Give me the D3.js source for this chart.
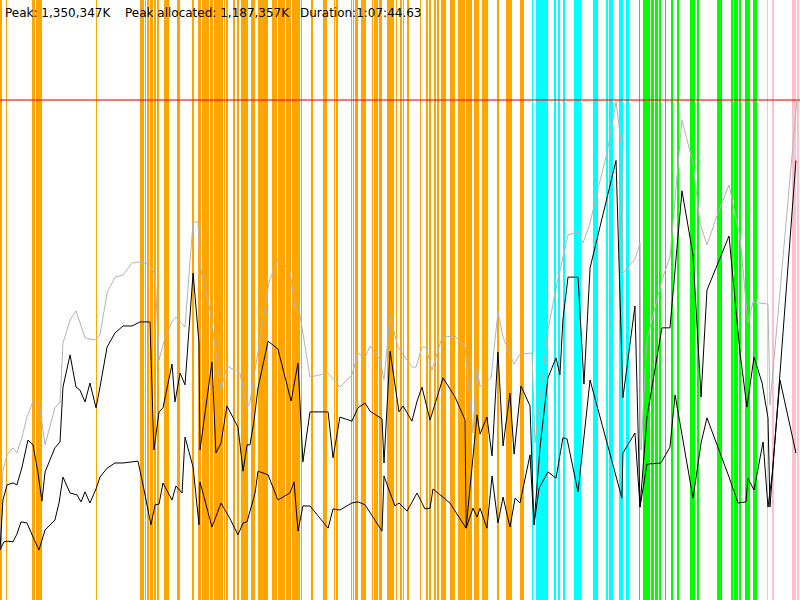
<!DOCTYPE html>
<html>
<head>
<meta charset="utf-8">
<script src="https://cdn.jsdelivr.net/npm/d3@7/dist/d3.min.js"></script>
<style>
	html, body { margin: 0; padding: 0; background: #fff; }
	svg { display: block; }
	.info { font-family: 'DejaVu Sans', sans-serif; font-size: 12px; fill: #000; }
</style>
</head>
<body>
<div id="chart"></div>
<script>
// times in seconds, memory in thousands of K
let duration      = 4064.63;
let peak          = 1350.347;
let peakAllocated = 1187.357;
let infoLabels    = ['Peak: 1,350,347K', 'Peak allocated: 1,187,357K', 'Duration:1:07:44.63'];

// event spans [start, end] per phase
let orangeEvents = [[0,10],[30,36],[163,178],[183,213],[488,493],[711,732],[737,742],[747,757],[762,777],[782,793],[798,808],[833,859],[899,915],[976,986],[1006,1021],[1026,1062],[1067,1082],[1087,1133],[1138,1143],[1148,1158],[1184,1194],[1204,1214],[1225,1260],[1275,1296],[1311,1362],[1382,1407],[1413,1448],[1453,1479],[1484,1524],[1529,1534],[1580,1590],[1641,1661],[1697,1702],[1707,1717],[1783,1788],[1794,1799],[1804,1819],[1834,1860],[1890,1895],[1900,1921],[1926,1941],[1966,2002],[2012,2017],[2032,2043],[2048,2053],[2068,2078],[2134,2139],[2164,2175],[2180,2190],[2205,2215],[2220,2231],[2241,2266],[2286,2312],[2327,2363],[2368,2398],[2408,2434],[2449,2479],[2525,2535],[2571,2601],[2642,2662]];
let cyanEvents   = [[2703,2708],[2723,2784],[2815,2825],[2835,2845],[2861,2871],[2916,2952],[3013,3038],[3079,3089],[3094,3115],[3145,3165],[3181,3196]];
let greenEvents  = [[3247,3252],[3267,3303],[3308,3323],[3328,3343],[3348,3358],[3379,3384],[3409,3419],[3440,3450],[3506,3531],[3541,3552],[3643,3668],[3714,3724],[3729,3750],[3755,3765],[3785,3811],[3826,3846]];
let pinkEvents   = [[3897,3902],[3922,3933],[4024,4044],[4049,4060]];

// [time, memory]
let total = [[0,149],[15,351],[36,392],[66,411],[86,397],[112,440],[137,494],[168,537],[198,535],[229,419],[279,519],[305,535],[320,694],[356,756],[386,781],[432,708],[483,702],[508,716],[544,829],[584,872],[625,878],[671,910],[711,913],[762,907],[788,878],[808,648],[838,708],[874,751],[894,764],[940,737],[981,1021],[1006,1021],[1016,905],[1067,783],[1123,567],[1153,632],[1219,613],[1255,519],[1270,535],[1367,859],[1412,921],[1473,889],[1499,791],[1519,786],[1575,602],[1667,613],[1727,575],[1788,608],[1819,667],[1854,654],[1880,686],[1931,648],[1951,594],[1982,767],[2022,683],[2093,629],[2114,629],[2144,683],[2164,683],[2195,621],[2246,710],[2312,713],[2363,683],[2403,451],[2424,629],[2439,575],[2495,600],[2530,778],[2556,710],[2612,637],[2642,664],[2703,667],[2718,424],[2784,729],[2830,856],[2855,913],[2886,986],[2937,994],[2962,964],[2998,1018],[3033,1099],[3084,1207],[3130,1345],[3160,1215],[3165,883],[3226,921],[3252,964],[3257,405],[3287,702],[3363,864],[3404,926],[3465,1296],[3521,1180],[3557,1018],[3592,959],[3648,1045],[3704,1121],[3760,980],[3800,748],[3826,805],[3902,799],[3912,527],[4049,1350]];
let allocated = [[0,135],[15,270],[36,311],[66,316],[86,311],[112,359],[142,432],[168,419],[193,343],[213,267],[229,346],[279,411],[305,427],[320,575],[356,662],[386,575],[406,567],[432,535],[457,586],[488,519],[508,575],[544,683],[584,721],[625,740],[671,740],[711,751],[762,751],[782,405],[808,508],[828,519],[874,637],[889,535],[915,613],[940,581],[981,883],[1011,694],[1016,405],[1077,643],[1097,397],[1123,424],[1153,524],[1209,467],[1235,348],[1255,419],[1270,419],[1291,486],[1311,573],[1362,699],[1412,678],[1479,537],[1514,640],[1539,373],[1575,508],[1667,508],[1692,384],[1727,494],[1788,483],[1819,519],[1855,532],[1880,510],[1941,489],[1951,370],[1982,672],[2027,508],[2048,524],[2093,483],[2119,537],[2144,575],[2185,486],[2251,600],[2312,548],[2363,486],[2368,194],[2424,500],[2439,448],[2474,494],[2500,389],[2530,670],[2556,416],[2591,559],[2612,394],[2647,578],[2693,524],[2713,203],[2744,413],[2784,600],[2825,654],[2845,608],[2860,756],[2886,872],[2937,872],[2967,583],[2998,897],[3130,1187],[3165,546],[3226,794],[3252,251],[3287,494],[3363,735],[3404,735],[3465,1105],[3521,932],[3562,548],[3592,837],[3704,983],[3760,667],[3795,521],[3831,656],[3872,586],[3902,492],[3912,251],[4044,1187]];
let live = [[0,135],[20,157],[41,159],[66,157],[86,178],[107,211],[137,208],[168,170],[198,135],[229,189],[279,216],[300,262],[320,332],[356,289],[391,284],[412,265],[432,292],[457,262],[488,300],[508,332],[544,356],[584,370],[625,370],[671,373],[701,375],[732,297],[767,203],[788,257],[808,259],[828,316],[874,270],[894,308],[925,289],[940,440],[981,359],[1011,203],[1016,319],[1077,197],[1123,262],[1169,219],[1209,176],[1235,208],[1255,211],[1296,289],[1311,348],[1362,338],[1412,270],[1473,289],[1494,319],[1514,186],[1539,254],[1575,254],[1667,194],[1692,246],[1727,243],[1788,262],[1819,265],[1855,257],[1895,224],[1941,186],[1951,335],[1982,289],[2007,254],[2027,262],[2068,240],[2119,289],[2159,246],[2185,248],[2200,300],[2286,262],[2368,194],[2403,248],[2424,224],[2439,248],[2474,194],[2500,335],[2530,208],[2556,278],[2591,197],[2617,275],[2642,262],[2693,392],[2713,203],[2739,302],[2784,346],[2825,329],[2860,438],[2881,435],[2937,292],[2998,594],[3160,275],[3165,397],[3226,451],[3252,251],[3287,367],[3358,370],[3404,413],[3430,554],[3521,275],[3562,424],[3592,492],[3704,332],[3750,262],[3790,265],[3800,329],[3831,297],[3877,427],[3902,251],[3922,332],[3963,594],[4044,397]];

let width  = 800,
	height = 600,
	top_y  = 100;

let x = d3.scaleLinear()
	.domain([0, duration])
	.range([0, width]);

let y = d3.scaleLinear()
	.domain([0, peak])
	.range([height, top_y]);

let svg = d3.select('#chart')
	.append('svg')
	.attr('width', width)
	.attr('height', height);

let phases = [
	{events: orangeEvents, color: '#ffa500'},
	{events: cyanEvents,   color: '#00ffff'},
	{events: greenEvents,  color: '#00ff00'},
	{events: pinkEvents,   color: '#ffc0cb'}
];

phases.forEach(function(p){
	svg.append('g')
		.attr('shape-rendering', 'crispEdges')
		.selectAll('rect')
		.data(p.events)
		.enter()
		.append('rect')
		.attr('x', function(d){ return x(d[0]); })
		.attr('y', 0)
		.attr('width', function(d){ return Math.max(1, x(d[1]) - x(d[0])); })
		.attr('height', height)
		.attr('fill', p.color);
});

// peak marker
svg.append('line')
	.attr('x1', 0)
	.attr('x2', width)
	.attr('y1', y(peak))
	.attr('y2', y(peak))
	.attr('stroke', '#ff0000')
	.attr('stroke-opacity', 0.55)
	.attr('stroke-width', 2);

let line = d3.line()
	.x(function(d){ return x(d[0]); })
	.y(function(d){ return y(d[1]); });

svg.append('path')
	.datum(total)
	.attr('fill', 'none')
	.attr('stroke', '#b4b4b4')
	.attr('stroke-width', 1)
	.attr('d', line);

[allocated, live].forEach(function(series){
	svg.append('path')
		.datum(series)
		.attr('fill', 'none')
		.attr('stroke', '#000')
		.attr('stroke-width', 1)
		.attr('d', line);
});

let label_x = [5, 125, 300];
svg.selectAll('.info')
	.data(infoLabels)
	.enter()
	.append('text')
	.attr('class', 'info')
	.attr('x', function(d, i){ return label_x[i]; })
	.attr('y', 17)
	.text(function(d){ return d; });
</script>
</body>
</html>
